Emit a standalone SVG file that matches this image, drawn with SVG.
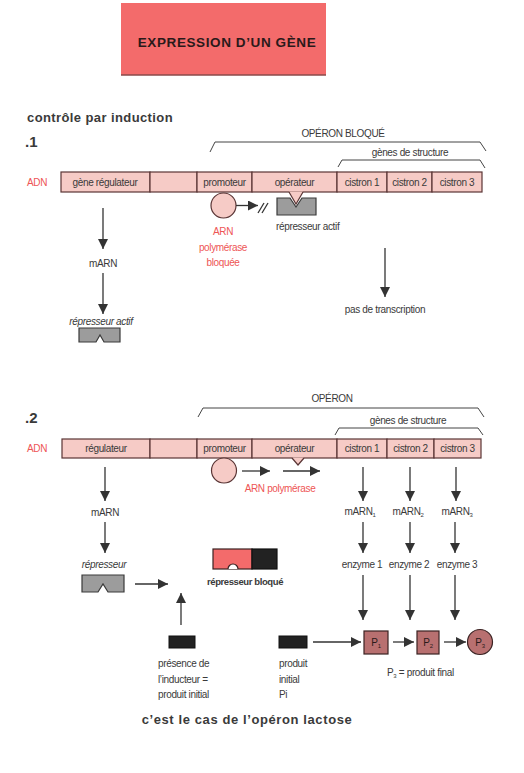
<svg xmlns="http://www.w3.org/2000/svg" width="524" height="773" viewBox="0 0 524 773">
<style>
text{font-family:"Liberation Sans",Arial,sans-serif;fill:#3a3a3a;font-size:10px;letter-spacing:-0.35px}
.b{font-weight:bold;letter-spacing:0}
.c{text-anchor:middle}
.r{fill:#ee5555}
.i{font-style:italic}
.bar{fill:#f6cbc6;stroke:#5a3535;stroke-width:1.2}
.ln{stroke:#333;stroke-width:1.3;fill:none}
.br{stroke:#444;stroke-width:1;fill:none}
.rep{fill:#9c9c9c;stroke:#3a3a3a;stroke-width:1.2}
.blk{fill:#222;stroke:#111}
.pol{fill:#f6cbc6;stroke:#5a3535;stroke-width:1.2}
.p{fill:#b87070;stroke:#3a2222;stroke-width:1.2}
</style>
<defs>
<marker id="ah" viewBox="0 0 10 10" refX="10" refY="5" markerWidth="10" markerHeight="10" markerUnits="userSpaceOnUse" orient="auto">
<path d="M0,0 L10,5 L0,10 z" fill="#333"/>
</marker>
</defs>
<rect width="524" height="773" fill="#fff"/>

<g id="title">
<rect x="121" y="3" width="205" height="72" fill="#f36b6b"/>
<line x1="121" y1="75" x2="326" y2="75" stroke="#8a4a4a" stroke-width="1.5"/>
<text class="b c" x="227" y="47" style="font-size:13.5px;fill:#2a1a1a;letter-spacing:0.6px">EXPRESSION D’UN GÈNE</text>
</g>

<text class="b" x="27" y="122" style="font-size:13px;letter-spacing:0.4px">contrôle par induction</text>

<!-- Section 1 -->
<g id="s1-label"><text class="b" x="25" y="147" style="font-size:15px">.1</text></g>

<g id="s1-brackets">
<polyline class="br" points="210,152 215,142 480,142 486,151"/>
<text class="c" x="343" y="137">OPÉRON BLOQUÉ</text>
<polyline class="br" points="338,167 342,160 480,160 485,168"/>
<text class="c" x="410" y="156">gènes de structure</text>
</g>

<g id="s1-adn">
<text class="r" x="27" y="186">ADN</text>
<rect class="bar" x="61" y="172" width="89" height="20"/>
<rect class="bar" x="150" y="172" width="47" height="20"/>
<rect class="bar" x="197" y="172" width="55" height="20"/>
<rect class="bar" x="252" y="172" width="85" height="20"/>
<rect class="bar" x="337" y="172" width="50" height="20"/>
<rect class="bar" x="387" y="172" width="45" height="20"/>
<rect class="bar" x="432" y="172" width="50" height="20"/>
<text class="c" x="105" y="186">gène  régulateur</text>
<text class="c" x="224.5" y="186">promoteur</text>
<text class="c" x="294.5" y="186">opérateur</text>
<text class="c" x="362" y="186">cistron 1</text>
<text class="c" x="409.5" y="186">cistron 2</text>
<text class="c" x="457" y="186">cistron 3</text>
</g>

<g id="s1-repressor-bound">
<polygon class="rep" points="277,198 290,198 296,207 302,198 316,198 316,215 277,215"/>
<polygon points="289,191.4 296,204 303,191.4" fill="#f6cbc6"/>
<polyline points="289,192 296,204 303,192" fill="none" stroke="#5a3535" stroke-width="1.2"/>
<text x="276" y="230">répresseur actif</text>
</g>

<g id="s1-polymerase">
<circle class="pol" cx="223.5" cy="205.5" r="12.5"/>
<line class="ln" x1="236" y1="205.5" x2="258" y2="205.5" marker-end="url(#ah)"/>
<line class="ln" x1="258" y1="213" x2="264" y2="203"/>
<line class="ln" x1="262" y1="213" x2="268" y2="203"/>
<text class="c r" x="223" y="235">ARN</text>
<text class="c r" x="223" y="251">polymérase</text>
<text class="c r" x="223" y="266">bloquée</text>
</g>

<g id="s1-left">
<line class="ln" x1="103" y1="208" x2="103" y2="249" marker-end="url(#ah)"/>
<text class="c" x="103" y="267">mARN</text>
<line class="ln" x1="103" y1="273" x2="103" y2="314" marker-end="url(#ah)"/>
<text class="c i" x="101" y="325">répresseur actif</text>
<polygon class="rep" points="79,328 120,328 120,342 104,342 100,335 96,342 79,342"/>
</g>

<g id="s1-notranscription">
<line class="ln" x1="385" y1="248" x2="385" y2="297" marker-end="url(#ah)"/>
<text class="c" x="385" y="313">pas de transcription</text>
</g>

<!-- Section 2 -->
<g id="s2-label"><text class="b" x="25" y="423" style="font-size:15px">.2</text></g>

<g id="s2-brackets">
<polyline class="br" points="198,417 203,408 478,408 484,417"/>
<text class="c" x="332" y="402">OPÉRON</text>
<polyline class="br" points="335,435 339,428 478,428 483,435"/>
<text class="c" x="408" y="424">gènes de structure</text>
</g>

<g id="s2-adn">
<text class="r" x="27" y="452">ADN</text>
<rect class="bar" x="62" y="439" width="88" height="19"/>
<rect class="bar" x="150" y="439" width="47" height="19"/>
<rect class="bar" x="197" y="439" width="55" height="19"/>
<rect class="bar" x="252" y="439" width="85" height="19"/>
<rect class="bar" x="337" y="439" width="50" height="19"/>
<rect class="bar" x="387" y="439" width="47" height="19"/>
<rect class="bar" x="434" y="439" width="47" height="19"/>
<polygon points="292,457.4 298,465 304,457.4" fill="#f6cbc6"/>
<polyline points="292,458 298,465 304,458" fill="none" stroke="#5a3535" stroke-width="1.2"/>
<text class="c" x="106" y="452">régulateur</text>
<text class="c" x="224.5" y="452">promoteur</text>
<text class="c" x="294.5" y="452">opérateur</text>
<text class="c" x="362" y="452">cistron 1</text>
<text class="c" x="410.5" y="452">cistron 2</text>
<text class="c" x="457.5" y="452">cistron 3</text>
</g>

<g id="s2-polymerase">
<circle class="pol" cx="224" cy="470.5" r="12.5"/>
<line class="ln" x1="242" y1="471" x2="270" y2="471" marker-end="url(#ah)"/>
<line class="ln" x1="283" y1="471" x2="320" y2="471" marker-end="url(#ah)"/>
<text class="c r" x="280" y="492">ARN polymérase</text>
</g>

<g id="s2-left">
<line class="ln" x1="105" y1="467" x2="105" y2="501" marker-end="url(#ah)"/>
<text class="c" x="105" y="516">mARN</text>
<line class="ln" x1="105" y1="522" x2="105" y2="553" marker-end="url(#ah)"/>
<text class="c i" x="104" y="568">répresseur</text>
<polygon class="rep" points="82,575 124,575 124,592 108,592 103,584 98,592 82,592"/>
<line class="ln" x1="135" y1="584" x2="168" y2="584" marker-end="url(#ah)"/>
</g>

<g id="s2-blocked">
<rect x="213" y="549" width="39" height="20" fill="#f36b6b" stroke="#3a2222" stroke-width="1.2"/>
<rect x="252" y="549" width="25" height="20" fill="#222" stroke="#111" stroke-width="1.2"/>
<path d="M228,569 A5,5 0 0 1 238,569" fill="#fff" stroke="#3a2222" stroke-width="1.2"/>
<text class="c b" x="245" y="585" style="font-size:9.5px;letter-spacing:-0.4px">répresseur bloqué</text>
</g>

<g id="s2-inducer">
<line class="ln" x1="181" y1="625" x2="181" y2="593" marker-end="url(#ah)"/>
<rect class="blk" x="169" y="636" width="26" height="12"/>
<text x="158" y="667">présence de</text>
<text x="158" y="683">l’inducteur =</text>
<text x="158" y="698">produit initial</text>
</g>

<g id="s2-pi">
<rect class="blk" x="279" y="636" width="28" height="12"/>
<text x="279" y="667">produit</text>
<text x="279" y="683">initial</text>
<text x="279" y="698">Pi</text>
</g>

<g id="s2-cistrons">
<line class="ln" x1="363" y1="467" x2="363" y2="501" marker-end="url(#ah)"/>
<line class="ln" x1="410" y1="467" x2="410" y2="501" marker-end="url(#ah)"/>
<line class="ln" x1="456" y1="467" x2="456" y2="501" marker-end="url(#ah)"/>
<text class="c" x="360" y="515">mARN<tspan dy="2" style="font-size:6px">1</tspan></text>
<text class="c" x="408" y="515">mARN<tspan dy="2" style="font-size:6px">2</tspan></text>
<text class="c" x="457" y="515">mARN<tspan dy="2" style="font-size:6px">3</tspan></text>
<line class="ln" x1="363" y1="522" x2="363" y2="553" marker-end="url(#ah)"/>
<line class="ln" x1="410" y1="522" x2="410" y2="553" marker-end="url(#ah)"/>
<line class="ln" x1="455" y1="522" x2="455" y2="553" marker-end="url(#ah)"/>
<text class="c" x="362" y="568">enzyme 1</text>
<text class="c" x="409" y="568">enzyme 2</text>
<text class="c" x="457" y="568">enzyme 3</text>
<line class="ln" x1="363" y1="575" x2="363" y2="620" marker-end="url(#ah)"/>
<line class="ln" x1="410" y1="575" x2="410" y2="620" marker-end="url(#ah)"/>
<line class="ln" x1="455" y1="575" x2="455" y2="620" marker-end="url(#ah)"/>
</g>

<g id="s2-products">
<line class="ln" x1="313" y1="642" x2="361" y2="642" marker-end="url(#ah)"/>
<rect class="p" x="364" y="631" width="24" height="23"/>
<text class="c" x="376" y="646" style="fill:#2a1a1a">P<tspan dy="2" style="font-size:6px">1</tspan></text>
<line class="ln" x1="393" y1="642" x2="414" y2="642" marker-end="url(#ah)"/>
<rect class="p" x="417" y="631" width="22" height="23"/>
<text class="c" x="428" y="646" style="fill:#2a1a1a">P<tspan dy="2" style="font-size:6px">2</tspan></text>
<line class="ln" x1="444" y1="642" x2="466" y2="642" marker-end="url(#ah)"/>
<circle class="p" cx="480" cy="642" r="12.5"/>
<text class="c" x="480" y="646" style="fill:#2a1a1a">P<tspan dy="2" style="font-size:6px">3</tspan></text>
<text x="387" y="676">P<tspan dy="2" style="font-size:6px">3</tspan><tspan dy="-2"> =  produit final</tspan></text>
</g>

<text class="b c" x="247" y="724" style="font-size:13px;letter-spacing:0.6px">c’est le cas de l’opéron lactose</text>
</svg>
